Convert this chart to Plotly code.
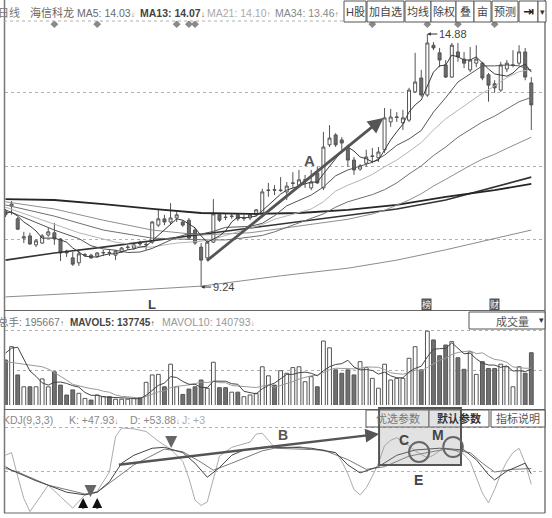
import plotly.graph_objects as go

W, H = 552, 518
FONT = "Liberation Sans, Noto Sans CJK SC, DejaVu Sans, sans-serif"

def px(x):
    return x / W

def py(y):
    return 1 - y / H

# ---------------- data ----------------
idx = list(range(87))
opens = [10.94, 11.05, 10.76, 10.33, 10.38, 10.18, 10.22, 10.40, 10.45, 10.31,
         10.04, 9.89, 9.78, 9.95, 9.95, 9.93, 10.00, 10.01, 9.95, 10.02,
         10.12, 10.11, 10.24, 10.18, 10.24, 10.62, 10.76, 10.69, 10.78, 10.69,
         10.73, 10.51, 10.13, 9.89, 10.24, 10.85, 10.80, 10.81, 10.85, 10.77,
         10.78, 10.85, 10.89, 11.39, 11.41, 11.39, 11.36, 11.55, 11.51, 11.62,
         11.45, 11.78, 11.45, 12.41, 12.63, 12.52, 12.34, 12.07, 11.87, 12.00,
         12.15, 12.12, 12.30, 12.92, 13.02, 12.90, 12.96, 13.59, 13.90, 13.52,
         14.63, 14.46, 14.19, 13.92, 14.48, 14.32, 14.08, 14.23, 14.23, 13.97,
         13.77, 13.63, 14.10, 14.18, 14.23, 14.48, 13.79]
highs = [10.98, 11.16, 10.80, 10.47, 10.45, 10.31, 10.42, 10.56, 10.67, 10.33,
         10.07, 10.02, 10.07, 10.00, 9.98, 10.02, 10.07, 10.07, 10.07, 10.13,
         10.18, 10.20, 10.27, 10.24, 10.71, 10.96, 10.85, 11.11, 10.91, 10.73,
         10.78, 10.56, 10.22, 10.29, 11.20, 10.89, 10.87, 10.89, 10.87, 10.85,
         10.87, 10.98, 11.43, 11.56, 11.51, 11.69, 11.58, 11.80, 11.85, 11.74,
         11.85, 11.92, 12.70, 12.85, 12.67, 12.58, 12.41, 12.14, 11.98, 12.30,
         12.34, 12.36, 13.23, 13.21, 13.14, 13.19, 13.68, 14.46, 14.08, 14.88,
         14.70, 14.57, 14.30, 14.68, 14.68, 14.48, 14.59, 14.63, 14.26, 14.01,
         13.85, 14.26, 14.30, 14.52, 14.63, 14.57, 13.92]
lows = [10.80, 10.85, 10.51, 10.22, 10.18, 10.13, 10.20, 10.36, 10.18, 9.82,
        9.91, 9.71, 9.71, 9.91, 9.87, 9.89, 9.93, 9.93, 9.84, 10.00,
        10.07, 10.07, 10.15, 10.07, 10.20, 10.58, 10.62, 10.62, 10.69, 10.58,
        10.29, 10.18, 9.24, 9.84, 10.22, 10.69, 10.73, 10.76, 10.71, 10.71,
        10.73, 10.82, 10.87, 11.25, 11.29, 11.36, 11.18, 11.45, 11.45, 11.45,
        11.40, 11.54, 11.40, 12.36, 12.36, 12.30, 11.92, 11.74, 11.83, 11.92,
        12.00, 12.03, 12.23, 12.81, 12.92, 12.74, 12.92, 13.57, 13.48, 13.48,
        14.52, 14.14, 13.90, 13.90, 14.26, 14.12, 14.03, 14.14, 13.85, 13.37,
        13.57, 13.59, 14.03, 14.14, 14.19, 13.85, 12.74]
closes = [10.85, 11.09, 10.53, 10.36, 10.20, 10.27, 10.38, 10.47, 10.33, 10.00,
          10.00, 9.75, 9.98, 9.96, 9.89, 10.00, 10.01, 10.00, 10.04, 10.11,
          10.13, 10.18, 10.20, 10.19, 10.69, 10.76, 10.69, 10.78, 10.85, 10.62,
          10.33, 10.22, 9.84, 10.24, 10.87, 10.73, 10.79, 10.82, 10.76, 10.78,
          10.85, 10.96, 11.36, 11.40, 11.40, 11.40, 11.49, 11.56, 11.63, 11.63,
          11.58, 11.56, 12.36, 12.56, 12.41, 12.45, 12.07, 11.85, 11.94, 12.14,
          12.16, 12.25, 13.01, 13.03, 13.03, 13.01, 13.63, 13.81, 13.52, 14.68,
          14.57, 14.30, 13.92, 14.63, 14.37, 14.23, 14.30, 14.32, 13.90, 13.74,
          13.68, 14.19, 14.23, 14.19, 14.48, 13.92, 13.30]

ma5 = [10.89, 10.91, 10.82, 10.69, 10.60, 10.49, 10.33, 10.33, 10.33, 10.29,
       10.24, 10.11, 10.02, 9.93, 9.91, 9.91, 9.95, 9.98, 9.98, 10.02,
       10.07, 10.09, 10.13, 10.15, 10.27, 10.40, 10.51, 10.62, 10.76, 10.73,
       10.65, 10.56, 10.38, 10.24, 10.31, 10.38, 10.49, 10.69, 10.80, 10.78,
       10.80, 10.82, 10.94, 11.07, 11.20, 11.31, 11.40, 11.45, 11.49, 11.54,
       11.58, 11.58, 11.76, 11.94, 12.10, 12.27, 12.36, 12.27, 12.14, 12.10,
       12.03, 12.07, 12.30, 12.52, 12.70, 12.87, 13.14, 13.30, 13.41, 13.72,
       14.03, 14.17, 14.19, 14.41, 14.37, 14.30, 14.30, 14.37, 14.23, 14.10,
       13.99, 13.97, 13.94, 14.01, 14.14, 14.21, 14.03]

ma13_idx = [0, 4, 8, 12] + list(range(14, 87, 2))
ma13 = [10.96, 10.73, 10.51, 10.32, 10.16, 10.09, 10.06, 10.01, 10.02, 10.10,
        10.22, 10.35, 10.43, 10.42, 10.48, 10.57, 10.58, 10.59, 10.66, 10.83,
        11.05, 11.17, 11.29, 11.47, 11.72, 11.85, 11.93, 12.02, 12.18, 12.40,
        12.54, 12.73, 13.14, 13.46, 13.81, 14.00, 14.17, 14.17, 14.19, 14.17, 14.07]

ma21_idx = [0, 6, 12, 18] + list(range(20, 87, 2))
ma21 = [11.02, 10.73, 10.45, 10.24,
        10.20, 10.13, 10.13, 10.18, 10.22, 10.24, 10.26, 10.31, 10.39, 10.47,
        10.54, 10.63, 10.75, 10.82, 10.90, 10.98, 11.14, 11.38, 11.51, 11.62,
        11.75, 11.92, 12.07, 12.26, 12.46, 12.74, 12.99, 13.18, 13.36, 13.56,
        13.72, 13.91, 14.04, 14.09]

ma34_idx = [0, 8, 16, 24, 33] + list(range(36, 87, 2))
ma34 = [11.07, 10.82, 10.51, 10.33, 10.29,
        10.29, 10.32, 10.35, 10.39, 10.47, 10.57, 10.67, 10.76, 10.87, 11.02,
        11.14, 11.22, 11.30, 11.41, 11.56, 11.76, 11.94, 12.17, 12.36, 12.58,
        12.76, 12.92, 13.05, 13.21, 13.37, 13.47]

ma55_idx = [0, 8, 16, 24, 32, 40, 48, 54] + list(range(56, 87, 2))
ma55 = [11.14, 10.98, 10.73, 10.51, 10.40, 10.45, 10.60, 10.71,
        10.75, 10.81, 10.87, 10.95, 11.06, 11.18, 11.32, 11.49, 11.64, 11.80,
        11.95, 12.09, 12.20, 12.33, 12.46, 12.58]

slow_idx = [0, 8, 16, 24, 32, 40, 48, 56, 64, 72, 80, 86]
ma89 = [11.20, 11.18, 11.09, 10.98, 10.89, 10.87, 10.89, 10.96, 11.07, 11.25, 11.40, 11.54]
ma144 = [9.84, 10.00, 10.13, 10.27, 10.42, 10.56, 10.70, 10.84, 10.98, 11.18, 11.47, 11.69]
ma233_idx = [0, 16, 32, 45, 56, 64, 72, 80, 86]
ma233 = [9.02, 9.13, 9.26, 9.49, 9.66, 9.84, 10.07, 10.33, 10.51]

volume = [170000, 217000, 117000, 75000, 75000, 75000, 103000, 75000, 128000, 81000,
          46000, 64000, 52000, 34000, 28000, 46000, 40000, 40000, 31000, 31000,
          31000, 34000, 37000, 91000, 117000, 119000, 75000, 155000, 75000, 48000,
          67000, 75000, 99000, 70000, 162000, 72000, 72000, 56000, 56000, 40000,
          46000, 52000, 146000, 114000, 81000, 132000, 123000, 143000, 146000, 93000,
          111000, 75000, 237000, 213000, 135000, 123000, 135000, 117000, 164000, 143000,
          105000, 70000, 155000, 99000, 105000, 105000, 176000, 217000, 135000, 272000,
          241000, 185000, 223000, 235000, 178000, 137000, 199000, 119000, 164000, 140000,
          140000, 155000, 146000, 75000, 146000, 123000, 195667]
mavol5 = [194, 212, 215, 170, 131, 112, 89, 81, 91, 92,
          87, 79, 74, 55, 45, 45, 40, 38, 37, 38,
          35, 33, 33, 45, 62, 80, 88, 111, 108, 94,
          84, 84, 73, 72, 95, 96, 95, 86, 84, 59,
          54, 50, 68, 80, 88, 105, 119, 119, 125, 127,
          123, 114, 132, 146, 154, 157, 169, 145, 135, 136,
          133, 120, 127, 114, 107, 107, 128, 140, 148, 181,
          208, 210, 211, 231, 212, 192, 194, 174, 159, 152,
          152, 144, 149, 131, 132, 129, 137.745]
mavol10 = [164, 161, 158, 155, 152, 149, 146, 138, 126, 111.6,
           99.2, 83.9, 77.4, 73.3, 68.6, 65.7, 59.4, 55.9, 46.2, 41.2,
           39.7, 36.7, 35.2, 40.9, 49.8, 57.1, 60.6, 72.1, 76.5, 78.2,
           81.8, 85.9, 92.1, 90.0, 94.5, 89.8, 89.5, 79.6, 77.7, 76.9,
           74.8, 72.5, 77.2, 81.6, 73.5, 79.5, 84.6, 93.3, 102.3, 107.6,
           114.1, 116.4, 125.5, 135.4, 140.8, 139.9, 141.1, 138.5, 140.3, 145.3,
           144.7, 144.2, 136.0, 124.6, 121.6, 119.8, 123.9, 133.9, 131.0, 143.9,
           157.5, 169.0, 175.8, 189.4, 196.7, 199.9, 202.2, 192.4, 195.3, 182.1,
           172.0, 169.0, 161.3, 145.3, 142.1, 140.7, 140.793]

k_idx = [0, 1, 3, 5, 7, 10, 13, 15, 17, 19, 21, 24, 26, 29, 31, 33, 35, 37, 39, 42,
         44, 47, 50, 54, 56, 58, 61, 64, 67, 71, 75, 77, 79, 80, 82, 85, 86]
k_val = [56, 52, 46, 40, 35, 27, 24, 27, 39, 60, 69, 77, 78, 72, 60, 44, 55, 69, 75, 78,
         78, 78, 77, 72, 58, 49, 56, 69, 75, 77, 75, 64, 47, 41, 51, 60, 47.93]
d_idx = [0, 2, 7, 13, 15, 18, 21, 26, 29, 32, 34, 37, 42, 44, 52, 56, 59, 62, 66, 72,
         76, 78, 80, 83, 86]
d_val = [54, 50, 35, 25, 27, 43, 58, 76, 73, 61, 52, 60, 74, 77, 75, 64, 53, 56, 68, 76,
         72, 60, 50, 53, 53.88]
j_idx = [0, 1, 2, 3, 4, 5, 7, 9, 11, 13, 15, 17, 18, 19, 21, 23, 25, 27, 29, 30,
         31, 32, 33, 34, 35, 37, 40, 41, 42, 43, 44, 46, 48, 50, 52, 54, 55, 56, 57, 58,
         59, 60, 61, 62, 63, 64, 66, 67, 68, 69, 70, 71, 72, 73, 74, 75, 76, 77, 78, 79,
         80, 81, 82, 83, 84, 85, 86]
j_val = [69, 72, 45, 20, 5, 15, 35, 22, 9, 24, 28, 50, 90, 100, 99, 96, 85, 76, 62, 43,
         18, 12, 16, 42, 68, 78, 84, 93, 94, 86, 78, 77, 79, 76, 74, 72, 62, 48, 30, 24,
         32, 45, 60, 80, 86, 89, 80, 74, 70, 66, 69, 74, 77, 76, 73, 70, 62, 45, 26, 15,
         30, 48, 62, 72, 77, 60, 36]

event_idx = [8, 15, 28, 30, 31, 60, 69, 74, 80]
event_level = 15.10

# ---------------- figure ----------------
fig = go.Figure()

def line(xs, ys, color, width, yaxis="y"):
    fig.add_trace(go.Scatter(x=xs, y=ys, mode="lines", yaxis=yaxis, xaxis="x",
                             line=dict(color=color, width=width), hoverinfo="skip",
                             showlegend=False))

line(ma233_idx, ma233, "#8c8c8c", 1)
line(slow_idx, ma144, "#333333", 1.6)
line(slow_idx, ma89, "#262626", 1.8)
line(ma55_idx, ma55, "#8f8f8f", 1)
line(ma34_idx, ma34, "#6f6f6f", 1)
line(ma21_idx, ma21, "#b4b4b4", 1)
line(ma13_idx, ma13, "#555555", 1)
line(idx, ma5, "#3a3a3a", 1)

fig.add_trace(go.Candlestick(
    x=idx, open=opens, high=highs, low=lows, close=closes,
    xaxis="x", yaxis="y",
    increasing=dict(line=dict(color="#555555", width=1), fillcolor="#ffffff"),
    decreasing=dict(line=dict(color="#555555", width=1), fillcolor="#6c6c6c"),
    whiskerwidth=0, hoverinfo="skip", showlegend=False))

fig.add_trace(go.Scatter(x=event_idx, y=[event_level] * len(event_idx), mode="markers",
                         marker=dict(symbol="diamond", size=6, color="#8a8a8a"),
                         xaxis="x", yaxis="y", hoverinfo="skip", showlegend=False))

up = [c >= o for o, c in zip(opens, closes)]
fig.add_trace(go.Bar(x=idx, y=volume, xaxis="x", yaxis="y2", width=0.62,
                     marker=dict(color=["#ffffff" if u else "#707070" for u in up],
                                 line=dict(color="#555555", width=1)),
                     hoverinfo="skip", showlegend=False))
line(idx, [v * 1000 for v in mavol10], "#9a9a9a", 1, "y2")
line(idx, [v * 1000 for v in mavol5], "#444444", 1, "y2")

line(j_idx, j_val, "#ababab", 1, "y3")
line(d_idx, d_val, "#7a7a7a", 1, "y3")
line(k_idx, k_val, "#444444", 1, "y3")

shapes = []
ann = []

def hline(y, x0=4, x1=545, color="#666", dash="solid", width=1):
    shapes.append(dict(type="line", xref="paper", yref="paper", x0=px(x0), x1=px(x1),
                       y0=py(y), y1=py(y), line=dict(color=color, width=width, dash=dash)))

def vline(x, y0, y1, color="#666", width=1):
    shapes.append(dict(type="line", xref="paper", yref="paper", x0=px(x), x1=px(x),
                       y0=py(y0), y1=py(y1), line=dict(color=color, width=width)))

def rect(x0, x1, y0, y1, fill="white", color="#555", width=1):
    shapes.append(dict(type="rect", xref="paper", yref="paper", x0=px(x0), x1=px(x1),
                       y0=py(y1), y1=py(y0), fillcolor=fill, line=dict(color=color, width=width),
                       layer="above"))

def txt(x, y, s, size=11, color="#666", anchor="left", family=FONT):
    ann.append(dict(xref="paper", yref="paper", x=px(x), y=py(y), text=s, showarrow=False,
                    xanchor=anchor, yanchor="middle", font=dict(size=size, color=color, family=family)))

# frame
vline(4.5, 0, 513, "#777", 1.5)
vline(545, 0, 513, "#777", 1.5)
hline(310.5, color="#666")
hline(409.5, color="#666")
hline(513, color="#666")
hline(21, color="#b0b0b0", dash="dot")

# header row
small = "<span style='font-size:8px'>%s</span>"
txt(-4, 13, "日线", color="#777")
txt(28, 13, "海信科龙", color="#666")
txt(75, 13, "MA5: 14.03" + small % "↓", size=10.5, color="#6a6a6a")
txt(138, 13, "<b>MA13: 14.07</b>" + small % "↓", size=10.5, color="#444")
txt(205, 13, "MA21: 14.10" + small % "↑", size=10.5, color="#aaaaaa")
txt(273, 13, "MA34: 13.46" + small % "↑", size=10.5, color="#888")
buttons = [("H股", 344, 366), ("加自选", 367, 404), ("均线", 405, 431), ("除权", 431, 456),
           ("叠", 456, 474), ("亩", 474, 491), ("预测", 492, 518)]
for label_, x0, x1 in buttons:
    rect(x0, x1, 1, 22)
    txt((x0 + x1) / 2, 12, label_, size=11, color="#444", anchor="center")
rect(519, 538, 1, 22)
txt(528.5, 12, "<b>⇥</b>", size=13, color="#222", anchor="center", family="DejaVu Sans")
rect(538, 546, 1, 22)
txt(542, 12, "▾", size=9, color="#333", anchor="center", family="DejaVu Sans")

# volume header
txt(-4, 322, "总手: 195667" + small % "↑", size=10.5, color="#777")
txt(68, 322, "<b>MAVOL5: 137745</b>" + small % "↑", size=10, color="#444")
txt(160, 322, "MAVOL10: 140793" + small % "↓", size=10.5, color="#999")
rect(469, 545, 312, 329)
txt(512, 321, "成交量", size=11, color="#555", anchor="center")
txt(541, 320, "▾", size=9, color="#333", anchor="center", family="DejaVu Sans")

# KDJ header
txt(1, 420, "KDJ(9,3,3)", size=10.5, color="#888")
txt(67, 420, "K: +47.93" + small % "↓", size=10.5, color="#888")
txt(128, 420, "D: +53.88" + small % "↓", size=10.5, color="#888")
txt(180, 420, "J: +3", size=10.5, color="#aaa")
for label_, x0, x1, col in [("优选参数", 366, 429, "#777"), ("<b>默认参数</b>", 429, 489, "#333"),
                            ("指标说明", 491, 545, "#555")]:
    rect(x0, x1, 410, 427)
    txt((x0 + x1) / 2, 418.5, label_, size=11, color=col, anchor="center")

def arrow(x0, y0, x1, y1, yref, color="#555", width=2.5, size=1.0, head=2):
    ann.append(dict(x=x1, y=y1, ax=x0, ay=y0, xref="x", yref=yref, axref="x", ayref=yref,
                    showarrow=True, arrowhead=head, arrowsize=size, arrowwidth=width,
                    arrowcolor=color, text=""))

def label(x, y, s, yref, size=14, color="#444"):
    ann.append(dict(x=x, y=y, xref="x", yref=yref, text="<b>%s</b>" % s, showarrow=False,
                    font=dict(size=size, color=color, family=FONT)))

arrow(32.7, 9.80, 61.8, 13.01, "y", width=2.8, size=1.1)
label(49.8, 12.07, "A", "y", 15, "#555")
label(24, 8.84, "L", "y", 13, "#444")

ann.append(dict(x=69, y=14.88, xref="x", yref="y", text="14.88", showarrow=True, ax=10, ay=0,
                xanchor="left", arrowhead=2, arrowsize=0.7, arrowwidth=1, arrowcolor="#333",
                font=dict(size=11, color="#444", family=FONT)))
ann.append(dict(x=32, y=9.24, xref="x", yref="y", text="9.24", showarrow=True, ax=10, ay=0,
                xanchor="left", arrowhead=2, arrowsize=0.7, arrowwidth=1, arrowcolor="#333",
                font=dict(size=11, color="#444", family=FONT)))
for xi, ch in [(68.8, "榜"), (79.9, "财")]:
    ann.append(dict(x=xi, y=8.86, xref="x", yref="y", text=ch, showarrow=False,
                    bgcolor="#555", font=dict(size=9, color="white", family=FONT), borderpad=0))

# KDJ annotations
shapes.append(dict(type="rect", xref="x", yref="y3", x0=61.1, x1=74.5, y0=58.0, y1=122.7,
                   fillcolor="rgba(150,150,150,0.28)", line=dict(color="#555", width=2),
                   layer="above"))
shapes.append(dict(type="circle", xref="x", yref="y3", x0=66, x1=69.3, y0=61.4, y1=84.1,
                   line=dict(color="#666", width=2)))
shapes.append(dict(type="circle", xref="x", yref="y3", x0=71.6, x1=74.8, y0=67, y1=89.8,
                   line=dict(color="#666", width=2)))
arrow(18.3, 58, 61.1, 93.2, "y3", width=2.5, size=1.1)
label(45.4, 92, "B", "y3", 14, "#555")
label(65.2, 86.4, "C", "y3", 14, "#444")
label(70.8, 92, "M", "y3", 14, "#444")
label(67.6, 40.9, "E", "y3", 14, "#444")
arrow(13.9, 34, 13.9, 21.6, "y3", color="#666", width=3, size=0.8)
arrow(27.1, 90.9, 27.1, 77.3, "y3", color="#666", width=3, size=0.8)
arrow(12.7, 6.8, 12.7, 20.5, "y3", color="#111", width=2.5, size=0.8)
arrow(15.0, 6.8, 15.0, 20.5, "y3", color="#111", width=2.5, size=0.8)

grid = dict(showgrid=True, gridcolor="#b0b0b0", griddash="dot", gridwidth=1,
            showticklabels=False, ticks="", zeroline=False, showline=False, fixedrange=True)

fig.update_layout(
    width=W, height=H, margin=dict(l=0, r=0, t=0, b=0),
    paper_bgcolor="white", plot_bgcolor="white", showlegend=False,
    font=dict(family=FONT),
    xaxis=dict(domain=[px(4.5), px(545)], range=[-0.16, 88.24], showgrid=False,
               showticklabels=False, ticks="", zeroline=False, showline=False,
               rangeslider=dict(visible=False), anchor="y3"),
    yaxis=dict(domain=[py(310), py(21)], range=[8.728, 15.170], tickvals=[10.31, 11.92, 13.57],
               anchor="x", **grid),
    yaxis2=dict(domain=[py(408), py(313)], range=[0, 336300], tickvals=[134500, 272600],
                anchor="x", **grid),
    yaxis3=dict(domain=[py(513), py(405)], range=[3.41, 126.1], tickvals=[50, 100],
                anchor="x", **grid),
    bargap=0.3,
    shapes=shapes, annotations=ann,
)

fig.write_html("out.html", config={"displayModeBar": False},
               post_script="document.body.style.margin='0';document.body.style.overflow='hidden';")
